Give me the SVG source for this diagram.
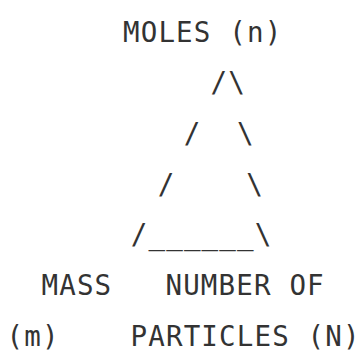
<svg xmlns="http://www.w3.org/2000/svg" width="359" height="352" viewBox="0 0 359 352">
<style>
.t{font-family:"DejaVu Sans Mono","Liberation Mono",monospace;font-size:27.5px;letter-spacing:1.15px;fill:#333}
</style>
<rect width="359" height="352" fill="#fff"/>
<g id="ascii" class="t">
<text x="123" y="41.7">MOLES (n)</text>
<text x="210.5" y="92.3">/\</text>
<text x="183.8" y="143">/&#160;&#160;\</text>
<text x="157.8" y="193.7">/&#160;&#160;&#160;&#160;\</text>
<text x="130.8" y="244.3">/______\</text>
<text x="41.5" y="295">MASS&#160;&#160;&#160;NUMBER OF</text>
<text x="6.6" y="345.7">(m)&#160;&#160;&#160;&#160;PARTICLES (N)</text>
</g>
</svg>
